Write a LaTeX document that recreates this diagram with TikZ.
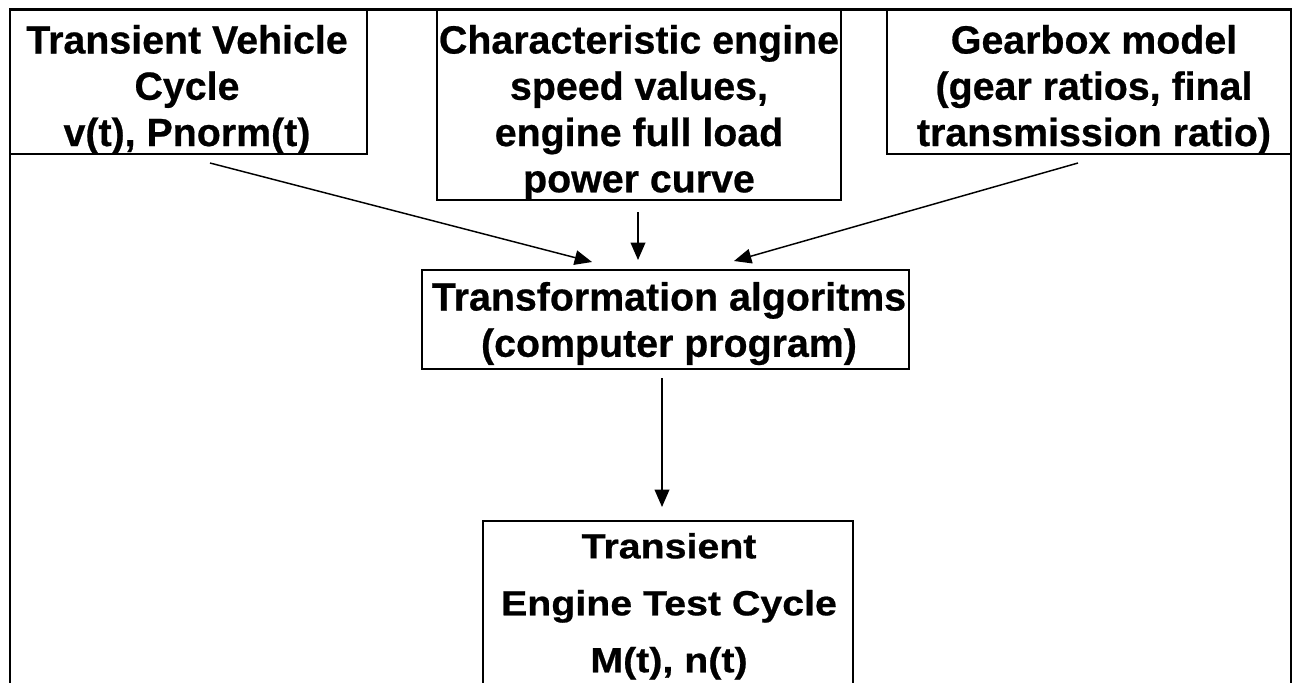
\documentclass[tikz,border=0pt]{standalone}
\usepackage{fontspec}
\setmainfont{Liberation Sans}[BoldFeatures={FakeBold=0.6}]
\usetikzlibrary{arrows.meta}
\begin{document}
\begin{tikzpicture}[x=0.75pt,y=-0.75pt,
  box/.style={draw, line width=1.5pt, rectangle, inner sep=0pt, outer sep=0pt, anchor=north west},
  txt/.style={inner sep=0pt, outer sep=0pt, anchor=north, align=center,
    font=\bfseries\fontsize{29.5pt}{34.7pt}\selectfont},
  arr/.style={line width=1.1pt, -{Triangle[length=13pt,width=11pt]}},
  frame/.style={line width=2pt}]
\useasboundingbox (0,0) rectangle (1295,682);
\clip (0,0) rectangle (1295,682);
\fill[white] (0,0) rectangle (1295,682);
% outer frame (open at bottom)
\draw[frame] (10,690) -- (10,9.5) -- (1291,9.5) -- (1291,690);
% boxes
\node[box, minimum width=267.75pt, minimum height=108pt] (b1) at (10,10) {};
\node[box, minimum width=303pt, minimum height=142.5pt] (b2) at (437,10) {};
\node[box, minimum width=303pt, minimum height=108pt] (b3) at (887,10) {};
\node[box, minimum width=365.25pt, minimum height=74.25pt] (bt) at (422,270) {};
\node[box, minimum width=277.5pt, minimum height=150pt] (bf) at (483,521) {};
% texts
\node[txt] (t1) at (187,25) {Transient Vehicle\\Cycle\\v(t), Pnorm(t)};
\node[txt] (t2) at (639,25) {Characteristic engine\\speed values,\\engine full load\\power curve};
\node[txt] (t3) at (1094,25) {Gearbox model\\(gear ratios, final\\transmission ratio)};
\node[txt] (tt) at (669,282) {Transformation algoritms\\(computer program)};
\node[txt, font=\bfseries\fontsize{29.5pt}{48pt}\selectfont, yscale=0.89, transform shape] (tf) at (669,533) {Transient\\Engine Test Cycle\\M(t), n(t)};
% connector end points
\coordinate (a1s) at (210,163);
\coordinate (a1e) at (592,262);
\coordinate (a2s) at (638,212);
\coordinate (a2e) at (638,260);
\coordinate (a3s) at (1078,163);
\coordinate (a3e) at (734,261);
\coordinate (a4s) at (662,378);
\coordinate (a4e) at (662,507);
\draw[arr] (a1s) -- (a1e);
\draw[arr] (a2s) -- (a2e);
\draw[arr] (a3s) -- (a3e);
\draw[arr] (a4s) -- (a4e);
\end{tikzpicture}
\end{document}
